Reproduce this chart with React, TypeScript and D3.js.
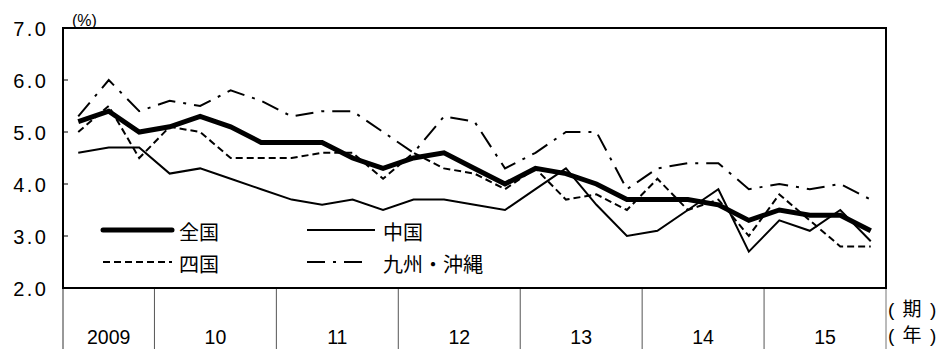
import * as d3 from "d3";

const years = ["2009", "10", "11", "12", "13", "14", "15"];
const quartersPerYear = [3, 4, 4, 4, 4, 4, 4];

const zenkoku = [5.2, 5.4, 5.0, 5.1, 5.3, 5.1, 4.8, 4.8, 4.8, 4.5, 4.3, 4.5, 4.6, 4.3, 4.0, 4.3, 4.2, 4.0, 3.7, 3.7, 3.7, 3.6, 3.3, 3.5, 3.4, 3.4, 3.1];
const chugoku = [4.6, 4.7, 4.7, 4.2, 4.3, 4.1, 3.9, 3.7, 3.6, 3.7, 3.5, 3.7, 3.7, 3.6, 3.5, 3.9, 4.3, 3.6, 3.0, 3.1, 3.5, 3.9, 2.7, 3.3, 3.1, 3.5, 2.9];
const shikoku = [5.0, 5.5, 4.5, 5.1, 5.0, 4.5, 4.5, 4.5, 4.6, 4.6, 4.1, 4.6, 4.3, 4.2, 3.9, 4.3, 3.7, 3.8, 3.5, 4.1, 3.5, 3.7, 3.0, 3.8, 3.3, 2.8, 2.8];
const kyushu = [5.3, 6.0, 5.4, 5.6, 5.5, 5.8, 5.6, 5.3, 5.4, 5.4, 5.0, 4.6, 5.3, 5.2, 4.3, 4.6, 5.0, 5.0, 3.9, 4.3, 4.4, 4.4, 3.9, 4.0, 3.9, 4.0, 3.7];

const yTicks = [2, 3, 4, 5, 6, 7];

const periods: string[] = [];
years.forEach((yr, i) => {
  const start = 5 - quartersPerYear[i];
  for (let q = start; q <= 4; q++) periods.push(`${yr}-${q}`);
});

const series = [
  { name: "全国", values: zenkoku, width: 5, dash: "" },
  { name: "中国", values: chugoku, width: 2, dash: "" },
  { name: "四国", values: shikoku, width: 2, dash: "7 4" },
  { name: "九州・沖縄", values: kyushu, width: 2, dash: "18 8 3 8" },
];

const font = "'Liberation Sans', Arial, 'Noto Sans CJK JP', sans-serif";

export default function App() {
  const width = 941;
  const height = 349;
  const left = 63;
  const right = 886;
  const top = 28;
  const bottom = 288;

  const x = d3.scaleBand<string>().domain(periods).range([left, right]).padding(0);
  const y = d3.scaleLinear().domain([2, 7]).range([bottom, top]);
  const line = d3
    .line<number>()
    .x((_, i) => (x(periods[i]) ?? 0) + x.bandwidth() / 2)
    .y((d) => y(d));

  // year boundaries
  let acc = 0;
  const yearSegments = years.map((yr, i) => {
    const x0 = x(periods[acc]) ?? left;
    acc += quartersPerYear[i];
    const x1 = acc < periods.length ? x(periods[acc]) ?? right : right;
    return { yr, x0, x1 };
  });

  const legend = [
    { s: series[0], lx: 103, ly: 230, len: 69 },
    { s: series[1], lx: 307, ly: 230, len: 68 },
    { s: series[2], lx: 103, ly: 262, len: 69 },
    { s: series[3], lx: 307, ly: 262, len: 60 },
  ];

  return (
    <svg
      width={width}
      height={height}
      style={{ position: "absolute", left: 0, top: 0, background: "#fff" }}
      fontFamily={font}
    >
      <rect x={0} y={0} width={width} height={height} fill="#fff" />
      {/* y ticks */}
      {yTicks.map((t) => (
        <g key={t}>
          <line x1={left} x2={left + 5} y1={y(t)} y2={y(t)} stroke="#000" strokeWidth={1} />
          <text x={48.5} y={y(t) + 8} textAnchor="end" fontSize={20} letterSpacing={2.5} fill="#000">
            {t.toFixed(1)}
          </text>
        </g>
      ))}
      <text x={72} y={26} fontSize={16} fill="#000">
        (%)
      </text>

      {/* year dividers */}
      {yearSegments.map((seg, i) => (
        <g key={seg.yr}>
          <line
            x1={seg.x0}
            x2={seg.x0}
            y1={bottom}
            y2={height}
            stroke={i === 0 ? "#333" : "#555"}
            strokeWidth={1}
          />
          <text x={(seg.x0 + seg.x1) / 2} y={344} textAnchor="middle" fontSize={19.5} fill="#000">
            {seg.yr}
          </text>
        </g>
      ))}
      <line x1={right} x2={right} y1={bottom} y2={height} stroke="#777" strokeWidth={1} />
      <text x={888} y={316} fontSize={19} fill="#000" letterSpacing={1.5}>
        ( 期 )
      </text>
      <text x={888} y={342} fontSize={19} fill="#000" letterSpacing={1.5}>
        ( 年 )
      </text>

      {/* lines */}
      {series
        .slice()
        .reverse()
        .map((s) => (
          <path
            key={s.name}
            d={line(s.values) ?? undefined}
            fill="none"
            stroke="#000"
            strokeWidth={s.width}
            strokeDasharray={s.dash || undefined}
            strokeLinejoin="miter"
          />
        ))}

      {/* legend */}
      {legend.map(({ s, lx, ly, len }) => (
        <g key={s.name}>
          <line
            x1={lx}
            x2={lx + len}
            y1={ly}
            y2={ly}
            stroke="#000"
            strokeWidth={s.width}
            strokeDasharray={s.dash || undefined}
            strokeLinecap={s.width > 3 ? "round" : "butt"}
          />
          <text x={lx + 76} y={ly + 10} fontSize={20} fill="#000">
            {s.name}
          </text>
        </g>
      ))}

      {/* plot frame */}
      <rect x={left} y={top} width={right - left} height={bottom - top} fill="none" stroke="#000" strokeWidth={2} />
    </svg>
  );
}
